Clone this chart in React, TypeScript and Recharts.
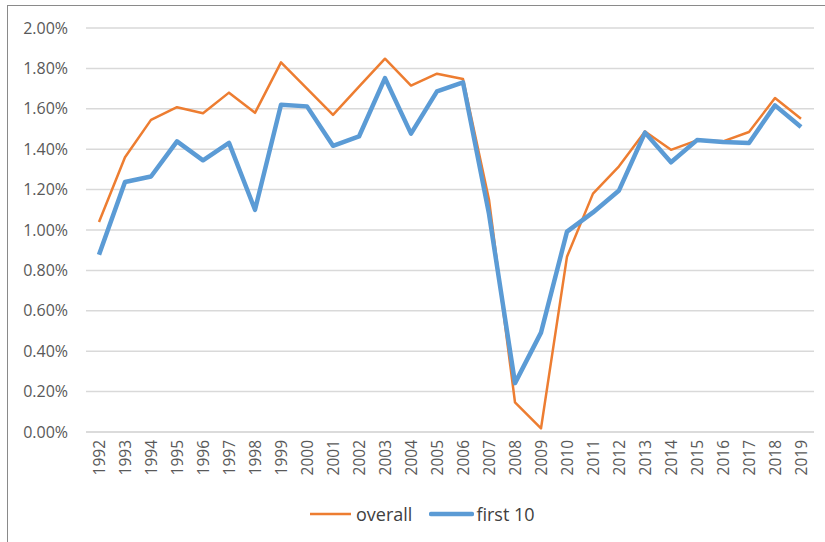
import React from 'react';
import { LineChart, Line, XAxis, YAxis, CartesianGrid, Legend } from 'recharts';

const years = ['1992','1993','1994','1995','1996','1997','1998','1999','2000','2001','2002','2003','2004','2005','2006','2007','2008','2009','2010','2011','2012','2013','2014','2015','2016','2017','2018','2019'];
const overall = [1.04,1.36,1.545,1.608,1.578,1.68,1.58,1.83,1.70,1.57,1.71,1.848,1.715,1.774,1.748,1.15,0.147,0.018,0.868,1.18,1.315,1.488,1.397,1.444,1.439,1.485,1.653,1.551];
const first10 = [0.878,1.238,1.265,1.439,1.345,1.431,1.10,1.62,1.612,1.417,1.463,1.752,1.477,1.686,1.731,1.08,0.242,0.492,0.992,1.087,1.196,1.482,1.335,1.445,1.436,1.431,1.617,1.51];
const yTicks = [0, 0.2, 0.4, 0.6, 0.8, 1.0, 1.2, 1.4, 1.6, 1.8, 2.0];

const data = years.map((y, i) => ({ year: y, overall: overall[i], first10: first10[i] }));

const FONT = '"Open Sans", sans-serif';
const ORANGE = '#ED7D31';
const BLUE = '#5B9BD5';

const XTick = (props: any) => {
  const { x, y, payload } = props;
  return (
    <text x={x} y={y} transform={`rotate(-90, ${x}, ${y})`} textAnchor="end" dy="0.36em"
      fill="#595959" fontSize={15.5} fontFamily={FONT}>{payload.value}</text>
  );
};

const LegendContent = () => (
  <div style={{ display: 'flex', alignItems: 'center', fontFamily: FONT, fontSize: 18, color: '#404040', whiteSpace: 'nowrap' }}>
    <svg width={41} height={10} style={{ marginRight: 5 }}><line x1={0} y1={5} x2={41} y2={5} stroke={ORANGE} strokeWidth={2.5} /></svg>
    <span style={{ marginRight: 17 }}>overall</span>
    <svg width={45} height={10} style={{ marginRight: 2 }}><line x1={2} y1={5} x2={43} y2={5} stroke={BLUE} strokeWidth={4.5} strokeLinecap="round" /></svg>
    <span>first 10</span>
  </div>
);

export default function App() {
  return (
    <div style={{ position: 'absolute', left: 0, top: 0, width: 825, height: 542, background: '#fff', overflow: 'hidden' }}>
      <div style={{ position: 'absolute', left: 7, top: 5, width: 840, height: 560, borderLeft: '1px solid #8a8a8a', borderTop: '1px solid #8a8a8a' }} />
      <LineChart width={825} height={542} data={data} margin={{ top: 28, right: 11, bottom: 60, left: 8 }}>
        <CartesianGrid vertical={false} stroke="#d9d9d9" strokeWidth={1.5} />
        <XAxis dataKey="year" height={50} interval={0} tick={<XTick />} tickLine={false}
          axisLine={{ stroke: '#d9d9d9', strokeWidth: 1.5 }} padding={{ left: 13, right: 13 }} />
        <YAxis width={78} domain={[0, 2]} ticks={yTicks} interval={0} axisLine={false} tickLine={false} tickMargin={12}
          tickFormatter={(v: number) => v.toFixed(2) + '%'}
          tick={{ fill: '#595959', fontSize: 16, fontFamily: FONT }} />
        <Legend layout="horizontal" verticalAlign="middle" align="center" content={<LegendContent />}
          wrapperStyle={{ left: 310, top: 502, width: 300, height: 26 }} />
        <Line type="linear" dataKey="overall" stroke={ORANGE} strokeWidth={2.5} dot={false} isAnimationActive={false} strokeLinejoin="round" />
        <Line type="linear" dataKey="first10" stroke={BLUE} strokeWidth={4.5} dot={false} isAnimationActive={false} strokeLinejoin="round" />
      </LineChart>
    </div>
  );
}
